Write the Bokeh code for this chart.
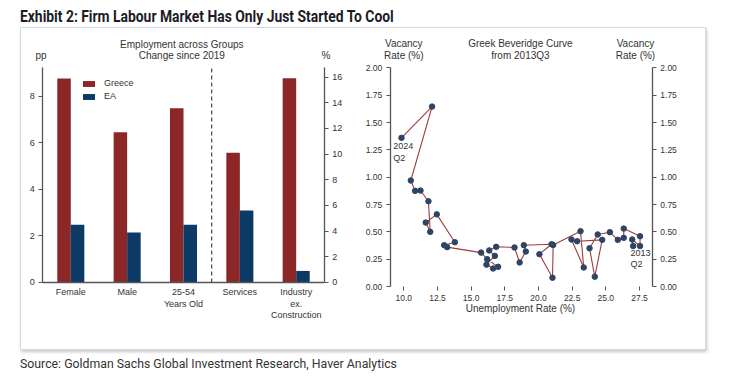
from bokeh.plotting import figure
from bokeh.models import (FactorRange, Range1d, LinearAxis, FixedTicker, Label,
                          Legend, LegendItem, Div, NumeralTickFormatter, ColumnDataSource)
from bokeh.layouts import column, row
from bokeh.transform import dodge
from bokeh.embed import file_html
from bokeh.resources import INLINE

# ---------------- data ----------------
categories = ["Female", "Male", "25-54 Years Old", "Services", "Industry ex. Construction"]
cat_labels = ["Female", "Male", "25-54\nYears Old", "Services", "Industry\nex.\nConstruction"]
pp_groups = ["Female", "Male", "25-54 Years Old"]
pct_groups = ["Services", "Industry ex. Construction"]
greece_pp = [8.75, 6.45, 7.48]
ea_pp = [2.48, 2.15, 2.48]
greece_pct = [10.1, 15.9]
ea_pct = [5.6, 0.9]
pp_ticks = [0, 2, 4, 6, 8]
pct_ticks = [0, 2, 4, 6, 8, 10, 12, 14, 16]

# Greek Beveridge curve, 2013Q2 -> 2024Q2
unemp = [27.03, 26.96, 27.54, 27.54, 26.33, 26.33, 25.89, 25.30, 24.40, 23.79, 24.18,
         24.73, 22.87, 22.45, 23.36, 23.12, 21.09, 21.04, 20.07, 20.97, 18.91, 19.06,
         18.60, 18.22, 16.86, 16.34, 16.76, 16.14, 16.63, 17.00, 16.19, 15.74, 13.22,
         13.00, 13.79, 12.45, 11.63, 11.96, 11.83, 11.24, 10.84, 10.52, 12.10, 9.83]
vacancy = [0.370, 0.430, 0.370, 0.460, 0.530, 0.445, 0.427, 0.497, 0.476, 0.350, 0.090,
           0.427, 0.414, 0.430, 0.174, 0.506, 0.380, 0.080, 0.296, 0.387, 0.378, 0.320,
           0.220, 0.357, 0.363, 0.330, 0.280, 0.200, 0.165, 0.180, 0.250, 0.310, 0.360,
           0.378, 0.405, 0.660, 0.585, 0.500, 0.780, 0.878, 0.875, 0.970, 1.646, 1.360]
vac_ticks = [0, 0.25, 0.5, 0.75, 1.0, 1.25, 1.5, 1.75, 2.0]
unemp_ticks = [10, 12.5, 15, 17.5, 20, 22.5, 25, 27.5]

PP_MAX = 9.22
PCT_MAX = 16.73
VAC_MAX = 2.0
U_MIN, U_MAX = 9.0, 28.45

# ---------------- styles ----------------
FONT = "Liberation Sans"
TXT = "#333333"
AXC = "#555555"
GREECE = "#8c2727"
EA = "#0c3a66"
LINE = "#a03a3a"
DOT = "#2e4466"


def style_axis(ax, size="9px"):
    ax.axis_line_color = AXC
    ax.axis_line_width = 1.3
    ax.major_tick_line_color = AXC
    ax.major_tick_out = 4
    ax.major_tick_in = 0
    ax.minor_tick_line_color = None
    ax.major_label_text_font = FONT
    ax.major_label_text_font_size = size
    ax.major_label_text_color = TXT
    ax.major_label_standoff = 4


def base_fig(p):
    p.xgrid.grid_line_color = None
    p.ygrid.grid_line_color = None
    p.outline_line_color = None
    p.background_fill_color = "white"
    p.border_fill_color = "white"
    p.min_border_left = p.min_border_right = 0
    p.min_border_top = p.min_border_bottom = 0


def add_label(p, x, y, text, align="center", size="10px"):
    p.add_layout(Label(x=x, y=y, text=text, text_align=align, text_baseline="middle",
                       text_font=FONT, text_font_size=size, text_color=TXT))


# ---------------- left chart ----------------
# the frame fills the whole figure; axes are pinned at fixed data locations
p1 = figure(x_range=FactorRange(*categories, range_padding=0.375,
                                range_padding_units="absolute"),
            y_range=Range1d(-2.876, 10.90),
            width=324, height=321, output_backend="svg", toolbar_location=None,
            x_axis_location=None, y_axis_location=None)
base_fig(p1)
ratio = PCT_MAX / PP_MAX
p1.extra_y_ranges = {"pct": Range1d(-2.876 * ratio, 10.90 * ratio)}

src_pp = ColumnDataSource(dict(cat=pp_groups, g=greece_pp, e=ea_pp))
src_pct = ColumnDataSource(dict(cat=pct_groups, g=greece_pct, e=ea_pct))

rg1 = p1.vbar(x=dodge("cat", -0.12, range=p1.x_range), top="g", width=0.24, source=src_pp,
              fill_color=GREECE, line_color=None)
re1 = p1.vbar(x=dodge("cat", 0.12, range=p1.x_range), top="e", width=0.24, source=src_pp,
              fill_color=EA, line_color=None)
rg2 = p1.vbar(x=dodge("cat", -0.12, range=p1.x_range), top="g", width=0.24, source=src_pct,
              fill_color=GREECE, line_color=None, y_range_name="pct")
re2 = p1.vbar(x=dodge("cat", 0.12, range=p1.x_range), top="e", width=0.24, source=src_pct,
              fill_color=EA, line_color=None, y_range_name="pct")

ax_l = LinearAxis(ticker=FixedTicker(ticks=pp_ticks), bounds=(0, PP_MAX), fixed_location=0)
ax_r = LinearAxis(y_range_name="pct", ticker=FixedTicker(ticks=pct_ticks),
                  bounds=(0, PCT_MAX), fixed_location=len(categories))
style_axis(ax_l)
style_axis(ax_r)
p1.add_layout(ax_l, "left")
p1.add_layout(ax_r, "right")

# baseline and group separator
p1.segment(x0=[0], y0=[0], x1=[len(categories)], y1=[0], line_color=AXC, line_width=1.3)
p1.segment(x0=[len(pp_groups)], y0=[0], x1=[len(pp_groups)], y1=[PP_MAX],
           line_color="#444444", line_dash="4 3", line_width=1.2)

# category labels
p1.text(x=categories, y=[-0.2] * len(categories), text=cat_labels,
        text_align="center", text_baseline="top", text_font={"value": FONT},
        text_font_size="9px", text_color=TXT, text_line_height=1.15)

legend = Legend(items=[LegendItem(label="Greece", renderers=[rg1, rg2]),
                       LegendItem(label="EA", renderers=[re1, re2])],
                location=(60, 248), border_line_color=None, background_fill_alpha=0,
                label_text_font=FONT, label_text_font_size="9px", label_text_color=TXT,
                glyph_width=15, glyph_height=7, label_standoff=8, spacing=3,
                padding=0, margin=0, label_height=10)
p1.add_layout(legend)

add_label(p1, 2.47, 10.21, "Employment across Groups")
add_label(p1, 2.47, 9.74, "Change since 2019")
add_label(p1, -0.03, 9.74, "pp")
add_label(p1, 5.03, 9.74, "%")

# ---------------- right chart ----------------
p2 = figure(x_range=Range1d(5.672, 32.40), y_range=Range1d(-0.5764, 2.3605),
            width=360, height=321, output_backend="svg", toolbar_location=None,
            x_axis_location=None, y_axis_location=None)
base_fig(p2)
p2.line(unemp, vacancy, line_color=LINE, line_width=1.1)
p2.scatter(unemp, vacancy, size=5.5, fill_color=DOT, line_color=DOT)

for loc, side in ((U_MIN, "left"), (U_MAX, "right")):
    ax = LinearAxis(ticker=FixedTicker(ticks=vac_ticks), bounds=(0, VAC_MAX),
                    formatter=NumeralTickFormatter(format="0.00"), fixed_location=loc)
    style_axis(ax, "8.5px")
    p2.add_layout(ax, side)

xa = LinearAxis(ticker=FixedTicker(ticks=unemp_ticks), bounds=(U_MIN, U_MAX),
                formatter=NumeralTickFormatter(format="0.0"), fixed_location=0)
style_axis(xa, "8.5px")
xa.axis_line_color = None
p2.add_layout(xa, "below")

add_label(p2, 18.66, -0.2, "Unemployment Rate (%)")
add_label(p2, 10.0, 2.22, "Vacancy")
add_label(p2, 10.0, 2.11, "Rate (%)")
add_label(p2, 18.66, 2.22, "Greek Beveridge Curve")
add_label(p2, 18.66, 2.11, "from 2013Q3")
add_label(p2, 27.2, 2.22, "Vacancy")
add_label(p2, 27.2, 2.11, "Rate (%)")
add_label(p2, 9.21, 1.29, "2024", align="left", size="9px")
add_label(p2, 9.21, 1.18, "Q2", align="left", size="9px")
add_label(p2, 26.83, 0.306, "2013", align="left", size="9px")
add_label(p2, 26.83, 0.206, "Q2", align="left", size="9px")

# ---------------- page layout ----------------
title = Div(text="Exhibit 2: Firm Labour Market Has Only Just Started To Cool",
            width=520, height=19, margin=(8, 0, 0, 20),
            styles={"font-family": "Roboto", "font-weight": "bold", "font-size": "16px",
                    "color": "#1c1c28", "white-space": "nowrap",
                    "transform": "scaleX(0.867)", "transform-origin": "left center",
                    "line-height": "18px"})
box = row(p1, p2, margin=(0, 0, 0, 20),
          styles={"border": "1px solid #d3d9e2",
                  "box-shadow": "1px 2px 3px rgba(0,0,0,0.22)"})
source = Div(text="Source: Goldman Sachs Global Investment Research, Haver Analytics",
             width=500, height=18, margin=(6, 0, 0, 20),
             styles={"font-family": "Roboto", "font-size": "12.3px", "color": "#333333",
                     "white-space": "nowrap", "line-height": "16px"})
page = column(title, box, source)

open("out.html", "w").write(file_html(page, INLINE))
